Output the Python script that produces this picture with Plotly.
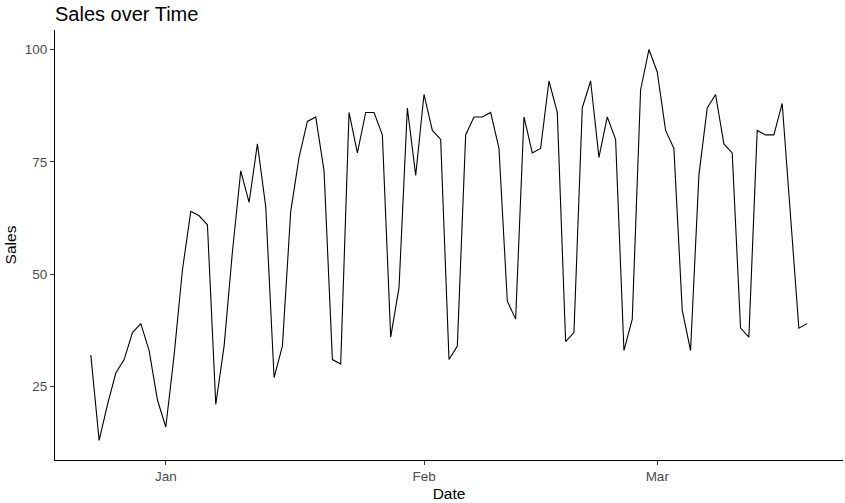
import pandas as pd
import plotly.graph_objects as go

start_date = "2022-12-23"
sales = [32, 13, 21, 28, 31, 37, 39, 33, 22, 16,
         32, 51, 64, 63, 61, 21, 34, 55, 73, 66,
         79, 65, 27, 34, 64, 76, 84, 85, 73, 31,
         30, 86, 77, 86, 86, 81, 36, 47, 87, 72,
         90, 82, 80, 31, 34, 81, 85, 85, 86, 78,
         44, 40, 85, 77, 78, 93, 86, 35, 37, 87,
         93, 76, 85, 80, 33, 40, 91, 100, 95, 82,
         78, 42, 33, 72, 87, 90, 79, 77, 38, 36,
         82, 81, 81, 88, 63, 38, 39]
dates = pd.date_range(start_date, periods=len(sales), freq="D")

tick_dates = ["2023-01-01", "2023-02-01", "2023-03-01"]
tick_labels = ["Jan", "Feb", "Mar"]
y_ticks = [25, 50, 75, 100]

# ggplot-like 5% expansion
span_x = dates[-1] - dates[0]
x_range = [dates[0] - 0.05 * span_x, dates[-1] + 0.05 * span_x]
span_y = max(sales) - min(sales)
y_range = [min(sales) - 0.05 * span_y, max(sales) + 0.05 * span_y]

fig = go.Figure(go.Scatter(x=dates, y=sales, mode="lines",
                           line=dict(color="black", width=1.1)))

axis_common = dict(showline=True, linecolor="black", linewidth=1.1,
                   ticks="outside", ticklen=4, tickcolor="#333333", tickwidth=1.1,
                   showgrid=False, zeroline=False, automargin=False,
                   tickfont=dict(family="Liberation Sans, Arial, sans-serif", size=13.5, color="#4D4D4D"))

fig.update_layout(
    width=845, height=503,
    paper_bgcolor="white", plot_bgcolor="white",
    margin=dict(l=55, r=2, t=30, b=43),
    showlegend=False,
    font=dict(family="Liberation Sans, Arial, sans-serif", color="black"),
    title=dict(text="Sales over Time", x=0, xref="paper", xanchor="left",
               y=1 - 14 / 503, yref="container", yanchor="middle",
               font=dict(size=20, color="black")),
    xaxis=dict(range=x_range, tickvals=tick_dates, ticktext=tick_labels,
               title=dict(text="Date", font=dict(size=15.5), standoff=4),
               **axis_common),
    yaxis=dict(range=y_range, tickvals=y_ticks,
               title=dict(text="Sales", font=dict(size=15.5), standoff=4),
               **axis_common),
)

fig.write_html("out.html", config={"displayModeBar": False},
               post_script="document.body.style.margin='0';document.body.style.overflow='hidden';")
